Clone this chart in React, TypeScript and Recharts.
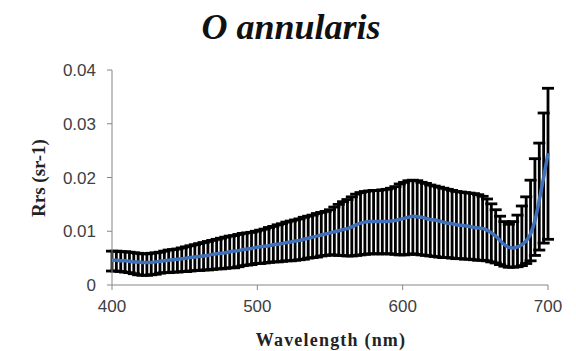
import { LineChart, Line, XAxis, YAxis, ErrorBar, Label } from "recharts";

// wavelength (nm), every 3 nm from 400 to 700
const wavelengths = [
  400, 403, 406, 409, 412, 415, 418, 421, 424, 427,
  430, 433, 436, 439, 442, 445, 448, 451, 454, 457,
  460, 463, 466, 469, 472, 475, 478, 481, 484, 487,
  490, 493, 496, 499, 502, 505, 508, 511, 514, 517,
  520, 523, 526, 529, 532, 535, 538, 541, 544, 547,
  550, 553, 556, 559, 562, 565, 568, 571, 574, 577,
  580, 583, 586, 589, 592, 595, 598, 601, 604, 607,
  610, 613, 616, 619, 622, 625, 628, 631, 634, 637,
  640, 643, 646, 649, 652, 655, 658, 661, 664, 667,
  670, 673, 676, 679, 682, 685, 688, 691, 694, 697,
  700,
];

// mean Rrs (sr-1)
const rrsMean = [
  0.0046, 0.0046, 0.0045, 0.0045, 0.0044, 0.0043, 0.0043, 0.0042, 0.0042, 0.0042,
  0.0043, 0.0044, 0.0045, 0.0046, 0.0047, 0.0048, 0.0049, 0.005, 0.0051, 0.0052,
  0.0053, 0.0054, 0.0055, 0.0057, 0.0058, 0.0059, 0.006, 0.0062, 0.0063, 0.0064,
  0.0066, 0.0067, 0.0068, 0.007, 0.0071, 0.0072, 0.0073, 0.0075, 0.0076, 0.0077,
  0.0079, 0.008, 0.0082, 0.0083, 0.0085, 0.0087, 0.0089, 0.0091, 0.0093, 0.0095,
  0.0097, 0.0099, 0.0101, 0.0103, 0.0105, 0.0108, 0.0112, 0.0115, 0.0117, 0.0118,
  0.0118, 0.0118, 0.0118, 0.0118, 0.0119, 0.012, 0.0122, 0.0124, 0.0126, 0.0128,
  0.0127, 0.0126, 0.0124, 0.0122, 0.0121, 0.0119, 0.0117, 0.0115, 0.0114, 0.0112,
  0.0111, 0.011, 0.0109, 0.0107, 0.0106, 0.0105, 0.0102, 0.0097, 0.0091, 0.0083,
  0.0075, 0.007, 0.0069, 0.0071, 0.0075, 0.0082, 0.0095, 0.012, 0.0158, 0.02,
  0.0245,
];

// top of error bar
const rrsUpper = [
  0.0063, 0.0063, 0.0062, 0.0062, 0.0061, 0.006, 0.0059, 0.0058, 0.0058, 0.0059,
  0.006, 0.0061, 0.0063, 0.0065, 0.0066, 0.0067, 0.0069, 0.0071, 0.0073, 0.0075,
  0.0077, 0.0079, 0.0081, 0.0083, 0.0085, 0.0087, 0.0089, 0.0091, 0.0092, 0.0094,
  0.0096, 0.0097, 0.0098, 0.01, 0.0102, 0.0104, 0.0107, 0.0109, 0.0112, 0.0114,
  0.0117, 0.0119, 0.0121, 0.0123, 0.0126, 0.0128, 0.013, 0.0133, 0.0135, 0.0137,
  0.014, 0.0145, 0.015, 0.0155, 0.0159, 0.0164, 0.0169, 0.0172, 0.0174, 0.0175,
  0.0176, 0.0176, 0.0177, 0.0178, 0.018, 0.0183, 0.0188, 0.0191, 0.0194, 0.0195,
  0.0194, 0.0191, 0.0189, 0.0186, 0.0184, 0.0182, 0.018, 0.0178, 0.0176, 0.0174,
  0.0173, 0.0172, 0.0171, 0.017, 0.0168, 0.0165, 0.016, 0.0151, 0.014, 0.0128,
  0.0118, 0.0113, 0.0118, 0.013, 0.0147, 0.0164, 0.0195, 0.0235, 0.0264, 0.032,
  0.0366,
];

// bottom of error bar
const rrsLower = [
  0.0026, 0.0026, 0.0025, 0.0024, 0.0023, 0.0021, 0.0019, 0.0018, 0.0018, 0.0019,
  0.002, 0.0022, 0.0023, 0.0023, 0.0024, 0.0024, 0.0025, 0.0025, 0.0026, 0.0027,
  0.0027, 0.0028, 0.0028, 0.0029, 0.003, 0.003, 0.0031, 0.0032, 0.0032, 0.0034,
  0.0036, 0.0037, 0.0038, 0.004, 0.004, 0.0041, 0.0042, 0.0043, 0.0043, 0.0044,
  0.0045, 0.0045, 0.0046, 0.0047, 0.0048, 0.005, 0.0051, 0.0052, 0.0054, 0.0055,
  0.0056, 0.0056, 0.0055, 0.0055, 0.0054, 0.0054, 0.0055, 0.0056, 0.0057, 0.0058,
  0.0058, 0.0058, 0.0058, 0.0058, 0.0058, 0.0057, 0.0056, 0.0056, 0.0057, 0.0058,
  0.0057, 0.0056, 0.0055, 0.0054, 0.0053, 0.0052, 0.0051, 0.0051, 0.005, 0.0049,
  0.0049, 0.0048, 0.0048, 0.0047, 0.0046, 0.0046, 0.0045, 0.0043, 0.0041, 0.0038,
  0.0035, 0.0033, 0.0033, 0.0034, 0.0036, 0.004, 0.0045, 0.0055, 0.0065, 0.0078,
  0.0085,
];

const xTicks = [400, 500, 600, 700];
const yTicks = [0, 0.01, 0.02, 0.03, 0.04];

const data = wavelengths.map((w, i) => ({
  w,
  rrs: rrsMean[i],
  err: [rrsMean[i] - rrsLower[i], rrsUpper[i] - rrsMean[i]],
}));

const AXIS_GREY = "#868686";
const tickStyle = { fontSize: 17, fill: "#404040", fontFamily: "Liberation Sans, Arial, sans-serif" };
const titleFont = "Liberation Serif, Times New Roman, serif";

export default function App() {
  return (
    <div style={{ position: "absolute", left: 0, top: 0, width: 576, height: 351, background: "#fff" }}>
      {/* error bars in the original are heavy black strokes */}
      <style>{".recharts-line line { stroke-width: 2.8px !important; }"}</style>
      <div
        style={{
          position: "absolute",
          left: 0,
          top: 6,
          width: 582,
          textAlign: "center",
          fontFamily: titleFont,
          fontStyle: "italic",
          fontWeight: "bold",
          fontSize: 36,
          color: "#111",
        }}
      >
        O annularis
      </div>
      <LineChart
        width={576}
        height={351}
        data={data}
        margin={{ top: 70, right: 28, bottom: 6, left: 0 }}
      >
        <XAxis
          dataKey="w"
          type="number"
          domain={[400, 700]}
          ticks={xTicks}
          stroke={AXIS_GREY}
          tickSize={5}
          tickMargin={10}
          height={60}
          tick={tickStyle}
          tickLine={{ stroke: AXIS_GREY }}
        >
          <Label
            content={() => (
              <text
                x={331}
                y={346}
                textAnchor="middle"
                fontFamily={titleFont}
                fontWeight="bold"
                fontSize={18}
                letterSpacing={1.2}
                fill="#222"
              >
                Wavelength (nm)
              </text>
            )}
          />
        </XAxis>
        <YAxis
          type="number"
          domain={[0, 0.04]}
          ticks={yTicks}
          stroke={AXIS_GREY}
          tickSize={5}
          tickMargin={11}
          width={112}
          tick={tickStyle}
          tickLine={{ stroke: AXIS_GREY }}
        >
          <Label
            content={() => (
              <text
                x={45}
                y={178}
                transform="rotate(-90 45 178)"
                textAnchor="middle"
                fontFamily={titleFont}
                fontWeight="bold"
                fontSize={19}
                fill="#222"
              >
                Rrs (sr-1)
              </text>
            )}
          />
        </YAxis>
        <Line
          dataKey="rrs"
          stroke="none"
          dot={false}
          isAnimationActive={false}
        >
          <ErrorBar dataKey="err" direction="y" width={6} strokeWidth={2.8} stroke="#000" isAnimationActive={false} />
        </Line>
        <Line
          dataKey="rrs"
          type="monotone"
          stroke="#3f70b8"
          strokeWidth={3.5}
          dot={false}
          isAnimationActive={false}
        />
      </LineChart>
    </div>
  );
}
